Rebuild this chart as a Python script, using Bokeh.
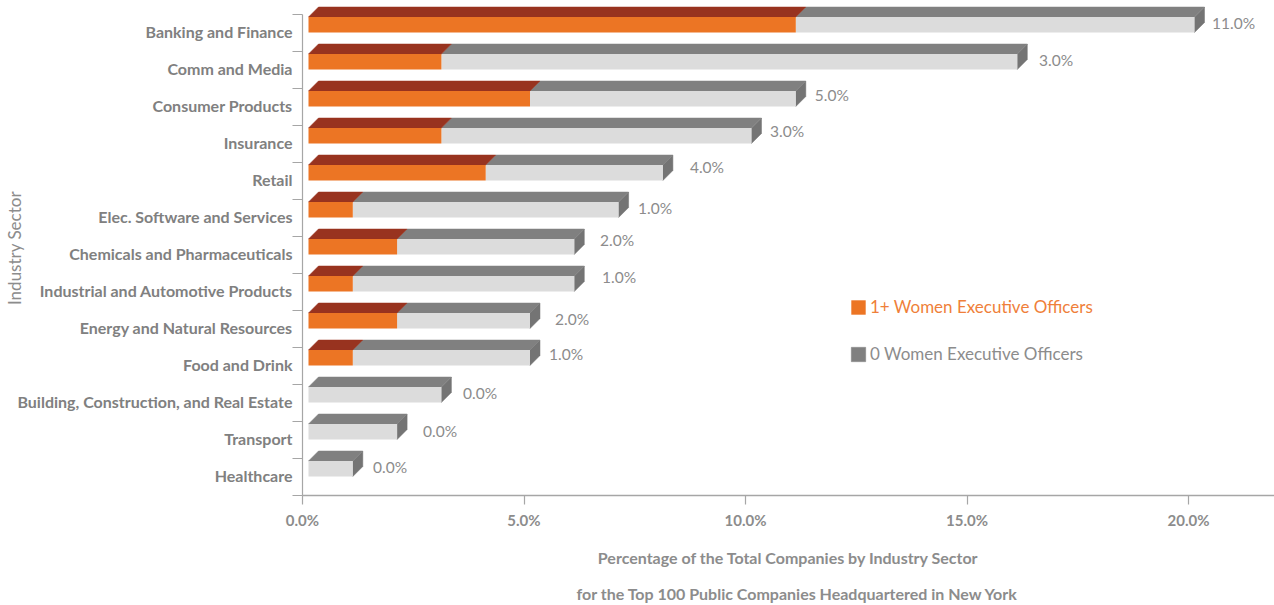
from bokeh.plotting import figure
from bokeh.models import ColumnDataSource, Range1d, FixedTicker, Legend, LegendItem, PrintfTickFormatter, Title
from bokeh.core.properties import value
from bokeh.embed import file_html
from bokeh.resources import INLINE

sectors = ["Banking and Finance", "Comm and Media", "Consumer Products", "Insurance", "Retail",
           "Elec. Software and Services", "Chemicals and Pharmaceuticals",
           "Industrial and Automotive Products", "Energy and Natural Resources", "Food and Drink",
           "Building, Construction, and Real Estate", "Transport", "Healthcare"]
women_1plus = [11, 3, 5, 3, 4, 1, 2, 1, 2, 1, 0, 0, 0]
women_0 = [9, 13, 6, 7, 4, 6, 4, 5, 3, 4, 3, 2, 1]
x_ticks = [0, 5, 10, 15, 20]

# layout of the value labels, in pixels from the end of each bar
label_dx = [23.5, 27.7, 25, 24.5, 33, 25.4, 31.7, 33.7, 31, 25, 27.6, 32, 26.2]
label_dy = [8, 8, 6, 5, 4, 8, 3, 3, 8, 6, 8, 9, 8]

FONT = "Lato"
GREY = "#8c8c8c"
ORANGE, ORANGE_TOP = "#ec7524", "#98331f"
LIGHT, GREY_TOP, GREY_SIDE = "#dcdcdc", "#808080", "#747474"

W, H = 1274, 605
LEFT, BOTTOM = 302, 110
PX_X = 44.3                    # px per percent
PX_Y = 37.0                    # px per band
x_end = (W - LEFT) / PX_X
y_top = -14 / PX_Y

p = figure(width=W, height=H, output_backend="svg", toolbar_location=None,
           frame_width=W - LEFT, frame_height=H - BOTTOM,
           x_range=Range1d(0, x_end), y_range=Range1d(13, y_top),
           min_border_left=LEFT, min_border_right=0, min_border_top=0, min_border_bottom=BOTTOM,
           outline_line_color=None, background_fill_color=None, border_fill_color=None)
p.grid.visible = False

X0 = 6 / PX_X
DX = 10 / PX_X
DY = 10 / PX_Y
TOP = 2.5 / PX_Y
FRONT = 15.5 / PX_Y

fl, fr, ft, fb = [], [], [], []
gl, gr, gt, gb = [], [], [], []
otx, oty, gtx, gty, sx, sy = [], [], [], [], [], []
for i, (a, b) in enumerate(zip(women_1plus, women_0)):
    t = i + TOP
    bt = t + FRONT
    xa = X0 + a
    xb = X0 + a + b
    if a:
        fl.append(X0); fr.append(xa); ft.append(t); fb.append(bt)
        otx.append([X0, X0 + DX, xa + DX, xa]); oty.append([t, t - DY, t - DY, t])
    gl.append(xa); gr.append(xb); gt.append(t); gb.append(bt)
    gtx.append([xa, xa + DX, xb + DX, xb]); gty.append([t, t - DY, t - DY, t])
    sx.append([xb, xb + DX, xb + DX, xb]); sy.append([t, t - DY, bt - DY, bt])

p.patches(sx, sy, fill_color=GREY_SIDE, line_color=GREY_SIDE, line_width=0.5)
grey_top = p.patches(gtx, gty, fill_color=GREY_TOP, line_color=GREY_TOP, line_width=0.5)
p.quad(left=gl, right=gr, top=gt, bottom=gb, fill_color=LIGHT, line_color=None)
p.patches(otx, oty, fill_color=ORANGE_TOP, line_color=ORANGE_TOP, line_width=0.5)
orange_front = p.quad(left=fl, right=fr, top=ft, bottom=fb, fill_color=ORANGE, line_color=None)

src = ColumnDataSource(dict(
    x=[a + b for a, b in zip(women_1plus, women_0)],
    y=list(range(len(sectors))),
    t=[f"{a:.1f}%" for a in women_1plus],
    dx=label_dx, dy=label_dy))
p.text(x="x", y="y", text="t", x_offset="dx", y_offset="dy", source=src,
       text_font=value(FONT), text_font_size="15.5px", text_color=GREY,
       text_baseline="middle", text_align="left")

# y axis: labels sit on band centres, ticks on band edges
ax = p.yaxis[0]
ax.ticker = FixedTicker(ticks=[i + 0.47 for i in range(len(sectors))],
                        minor_ticks=list(range(len(sectors) + 1)))
ax.major_label_overrides = {i + 0.47: s for i, s in enumerate(sectors)}
ax.major_tick_out = 0
ax.major_tick_in = 0
ax.minor_tick_out = 10
ax.minor_tick_in = 0
ax.minor_tick_line_color = "#a6a6a6"
ax.minor_tick_line_width = 1.2
ax.axis_line_color = "#a6a6a6"
ax.axis_line_width = 1.2
ax.bounds = (0, 13)
ax.major_label_standoff = 0
ax.major_label_text_font = FONT
ax.major_label_text_font_size = "16px"
ax.major_label_text_font_style = "bold"
ax.major_label_text_color = "#808080"
ax.axis_label = "Industry Sector"
ax.axis_label_standoff = -11
ax.axis_label_text_font = FONT
ax.axis_label_text_font_size = "17px"
ax.axis_label_text_font_style = "normal"
ax.axis_label_text_color = GREY

xa_ = p.xaxis[0]
xa_.ticker = FixedTicker(ticks=x_ticks)
xa_.minor_tick_line_color = None
xa_.major_tick_out = 9
xa_.major_tick_in = 0
xa_.major_tick_line_color = "#a6a6a6"
xa_.major_tick_line_width = 1.2
xa_.axis_line_color = "#a6a6a6"
xa_.axis_line_width = 1.5
xa_.formatter = PrintfTickFormatter(format="%.1f%%")
xa_.major_label_standoff = 6
xa_.major_label_text_font = FONT
xa_.major_label_text_font_size = "15px"
xa_.major_label_text_font_style = "bold"
xa_.major_label_text_color = GREY


def below_title(text, standoff, align="center", offset=0):
    p.add_layout(Title(text=text, align=align, offset=offset, standoff=standoff, text_font=FONT,
                       text_font_size="16px", text_font_style="bold", text_color=GREY), "below")


below_title("Percentage of the Total Companies by Industry Sector", 28)
below_title("for the Top 100 Public Companies Headquartered in New York", 2, "left", 274)


def key(renderer, text, color, x, y):
    lg = Legend(items=[LegendItem(label=text, renderers=[renderer])], location=(x - LEFT, H - BOTTOM - y),
                border_line_color=None, background_fill_alpha=0, padding=0, margin=0, spacing=0,
                glyph_width=18, glyph_height=18, label_standoff=3, label_height=14,
                label_text_font=FONT, label_text_font_size="17px", label_text_color=color)
    p.add_layout(lg, "center")


key(orange_front, "1+ Women Executive Officers", "#ef7f3a", 849, 317)
key(grey_top, "0 Women Executive Officers", GREY, 849, 364)

open("out.html", "w").write(file_html(p, INLINE))
